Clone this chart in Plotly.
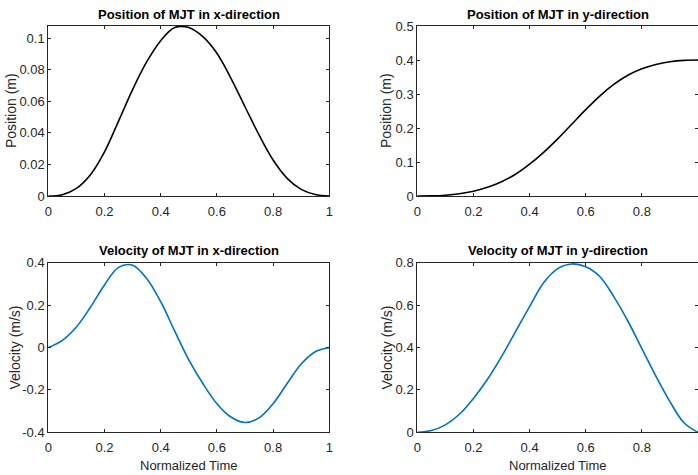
import plotly.graph_objects as go

# ---- data ----
t = [0.0, 0.05, 0.1, 0.15, 0.2, 0.25, 0.3, 0.35, 0.4, 0.45, 0.5,
     0.55, 0.6, 0.65, 0.7, 0.75, 0.8, 0.85, 0.9, 0.95, 1.0]

pos_x = [0.0, 0.0008, 0.0048, 0.0135, 0.0280, 0.0475, 0.0675, 0.0850, 0.0985, 0.1068, 0.1068,
         0.1010, 0.0905, 0.0746, 0.0566, 0.0387, 0.0228, 0.0112, 0.0042, 0.0010, 0.0]

pos_y = [0.0, 0.0003, 0.0022, 0.0065, 0.014, 0.0255, 0.042, 0.064, 0.0935, 0.1285, 0.168,
         0.211, 0.254, 0.294, 0.328, 0.355, 0.374, 0.387, 0.395, 0.399, 0.400]

vel_x = [0.0, 0.034, 0.097, 0.190, 0.295, 0.378, 0.388, 0.325, 0.216, 0.077, -0.058,
         -0.170, -0.265, -0.328, -0.354, -0.332, -0.265, -0.170, -0.078, -0.020, 0.0]

vel_y = [0.0, 0.008, 0.035, 0.085, 0.160, 0.250, 0.357, 0.475, 0.593, 0.705, 0.772,
         0.794, 0.781, 0.735, 0.640, 0.525, 0.395, 0.265, 0.145, 0.045, 0.0]

x_ticks = [0, 0.2, 0.4, 0.6, 0.8, 1]
x_tick_labels = ["0", "0.2", "0.4", "0.6", "0.8", "1"]
px_ticks = [0, 0.02, 0.04, 0.06, 0.08, 0.1]
px_tick_labels = ["0", "0.02", "0.04", "0.06", "0.08", "0.1"]
py_ticks = [0, 0.1, 0.2, 0.3, 0.4, 0.5]
py_tick_labels = ["0", "0.1", "0.2", "0.3", "0.4", "0.5"]
vx_ticks = [-0.4, -0.2, 0, 0.2, 0.4]
vx_tick_labels = ["-0.4", "-0.2", "0", "0.2", "0.4"]
vy_ticks = [0, 0.2, 0.4, 0.6, 0.8]
vy_tick_labels = ["0", "0.2", "0.4", "0.6", "0.8"]

titles = ["Position of MJT in x-direction", "Position of MJT in y-direction",
          "Velocity of MJT in x-direction", "Velocity of MJT in y-direction"]
ylabels = ["Position (m)", "Position (m)", "Velocity (m/s)", "Velocity (m/s)"]
xlabel = "Normalized Time"

# ---- layout geometry ----
W, H = 698, 475
BLACK = "#000000"
BLUE = "#0072BD"
AXC = "#262626"
FONT = "Liberation Sans, Arial, Helvetica, sans-serif"

def fx(p):
    return p / W

def fy(p):
    return 1 - p / H

left_dom = [fx(48.3), fx(329.3)]
right_dom = [fx(417.3), 1.0]
top_dom = [fy(196), fy(26)]
bot_dom = [fy(432.3), fy(262.7)]

fig = go.Figure()
line_common = dict(width=1.6, shape="spline", smoothing=1.0)
fig.add_trace(go.Scatter(x=t, y=pos_x, mode="lines", line=dict(color=BLACK, **line_common),
                         xaxis="x", yaxis="y", showlegend=False))
fig.add_trace(go.Scatter(x=t, y=pos_y, mode="lines", line=dict(color=BLACK, **line_common),
                         xaxis="x2", yaxis="y2", showlegend=False))
fig.add_trace(go.Scatter(x=t, y=vel_x, mode="lines", line=dict(color=BLUE, **line_common),
                         xaxis="x3", yaxis="y3", showlegend=False))
fig.add_trace(go.Scatter(x=t, y=vel_y, mode="lines", line=dict(color=BLUE, **line_common),
                         xaxis="x4", yaxis="y4", showlegend=False))

common = dict(showline=True, linecolor=AXC, linewidth=1, mirror="ticks", ticks="inside",
              ticklen=3, tickwidth=1, tickcolor=AXC, showgrid=False, zeroline=False,
              automargin=False, tickfont=dict(family=FONT, size=13, color=AXC))

def xax(dom, anchor):
    return dict(domain=dom, anchor=anchor, range=[0, 1], tickmode="array",
                tickvals=x_ticks, ticktext=x_tick_labels, ticklabelstandoff=3, **common)

def yax(dom, anchor, rng, vals, labels):
    return dict(domain=dom, anchor=anchor, range=rng, tickmode="array",
                tickvals=vals, ticktext=labels, **common)

fig.update_layout(
    template="none",
    width=W, height=H, margin=dict(l=0, r=0, t=0, b=0, pad=0),
    paper_bgcolor="white", plot_bgcolor="white", showlegend=False,
    xaxis=xax(left_dom, "y"),
    yaxis=yax(top_dom, "x", [0, 0.1078], px_ticks, px_tick_labels),
    xaxis2=xax(right_dom, "y2"),
    yaxis2=yax(top_dom, "x2", [0, 0.5], py_ticks, py_tick_labels),
    xaxis3=xax(left_dom, "y3"),
    yaxis3=yax(bot_dom, "x3", [-0.4, 0.4], vx_ticks, vx_tick_labels),
    xaxis4=xax(right_dom, "y4"),
    yaxis4=yax(bot_dom, "x4", [0, 0.8], vy_ticks, vy_tick_labels),
)

ann = []
title_pos = [(188.8, 14.5), (558, 14.5), (188.8, 250.5), (558, 250.5)]
for txt, (x, y) in zip(titles, title_pos):
    ann.append(dict(text="<b>" + txt + "</b>", x=fx(x), y=fy(y), xref="paper", yref="paper",
                    xanchor="center", yanchor="middle", showarrow=False,
                    font=dict(family=FONT, size=13, color=BLACK)))
ylab_pos = [(11, 111), (386, 111), (14, 347.5), (386, 347.5)]
for txt, (x, y) in zip(ylabels, ylab_pos):
    ann.append(dict(text=txt, x=fx(x), y=fy(y), xref="paper", yref="paper",
                    xanchor="center", yanchor="middle", showarrow=False, textangle=-90,
                    font=dict(family=FONT, size=14, color=AXC)))
for x in (188.8, 558):
    ann.append(dict(text=xlabel, x=fx(x), y=fy(465.5), xref="paper", yref="paper",
                    xanchor="center", yanchor="middle", showarrow=False,
                    font=dict(family=FONT, size=13, color=AXC)))
fig.update_layout(annotations=ann)

fig.write_html("out.html")
